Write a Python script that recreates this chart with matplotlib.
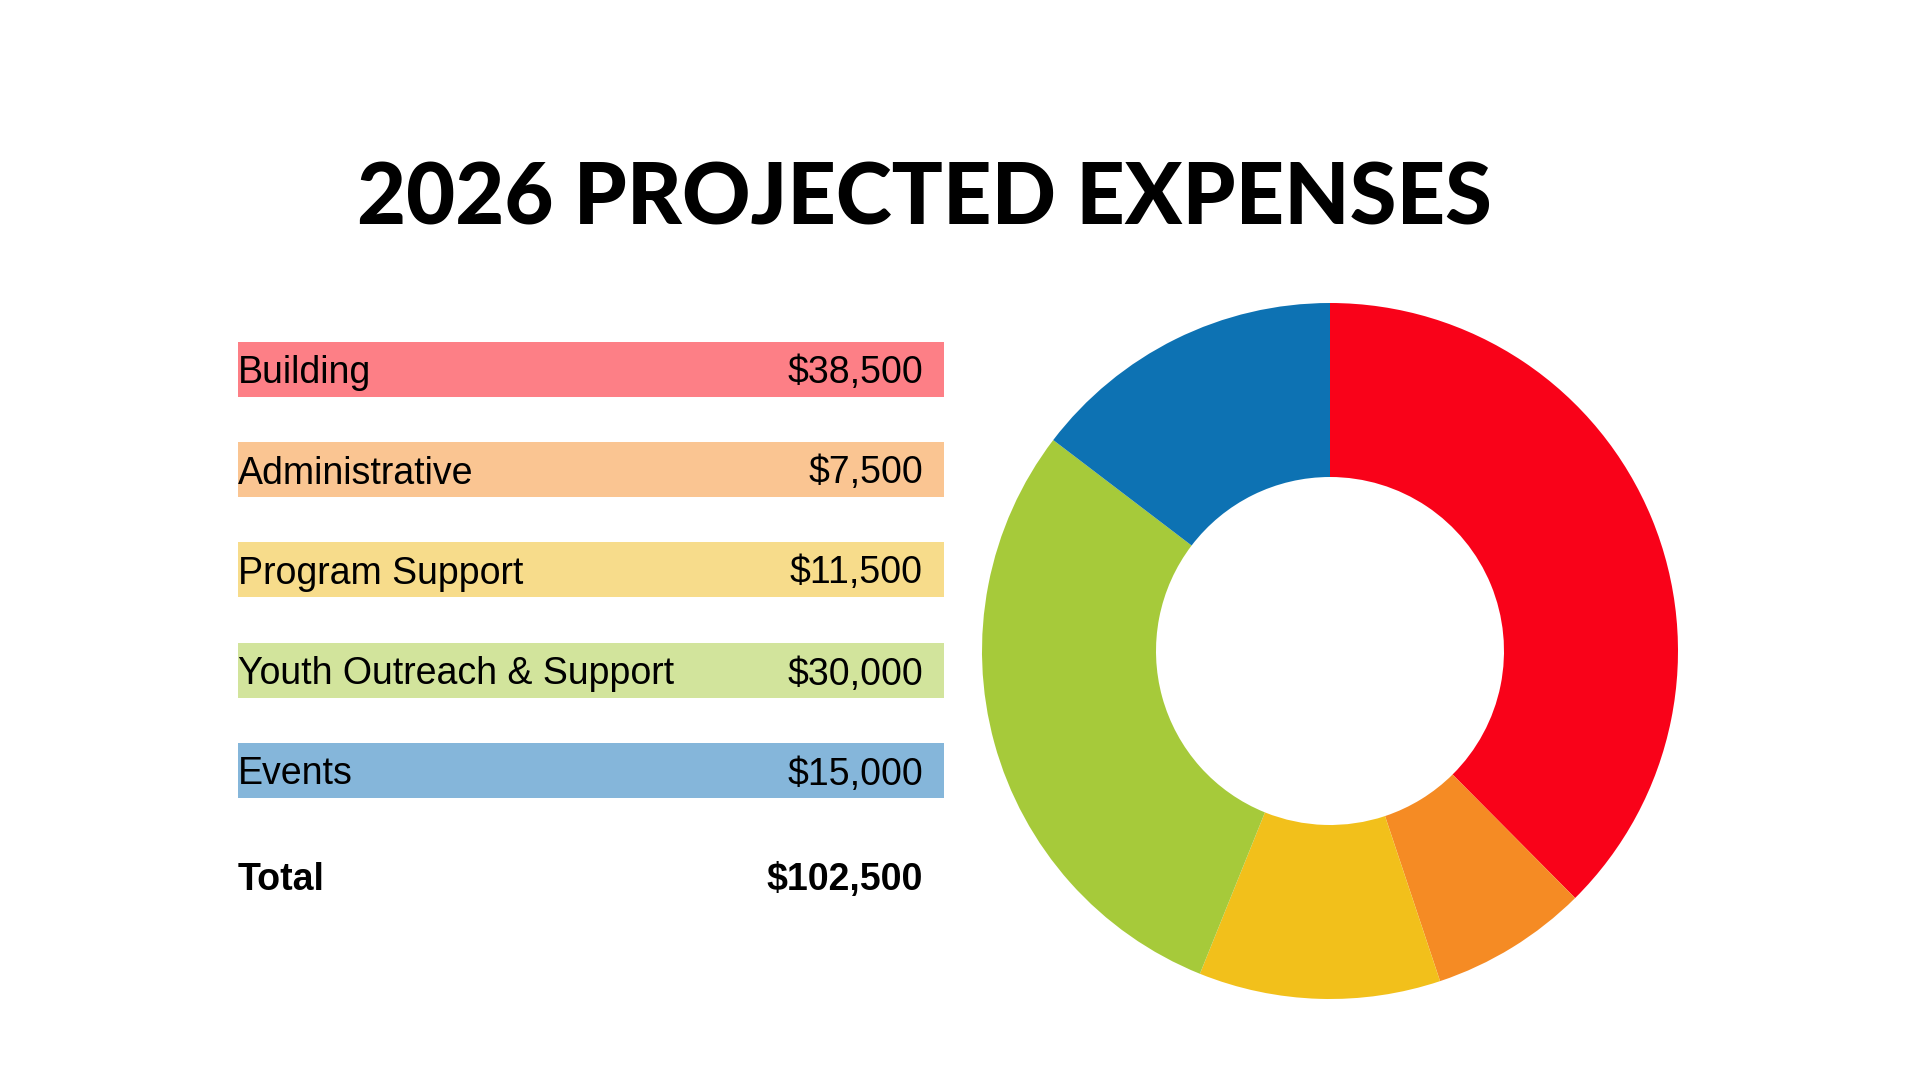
import matplotlib.pyplot as plt

# ==========================
# Data
# ==========================
categories = ["Building", "Administrative", "Program Support",
              "Youth Outreach & Support", "Events"]
amounts = [38500, 7500, 11500, 30000, 15000]
pie_colors = ["#F90219", "#F58B24", "#F2C01B", "#A6CA3A", "#0D72B3"]
row_colors = ["#FD7F86", "#FAC592", "#F7DC8B", "#D2E49C", "#85B6DA"]
title = "2026 PROJECTED EXPENSES"

total = sum(amounts)

W, H = 1920, 1080
fig = plt.figure(figsize=(W / 100, H / 100), dpi=100)
fig.patch.set_facecolor("white")

# title
fig.text(924 / W, 1 - 200 / H, title, ha="center", va="center",
         family=["Lato", "DejaVu Sans"], fontweight="black", fontsize=61)

# ==========================
# Table on the left (pixel coords)
# ==========================
ax_t = fig.add_axes([0, 0, 1, 1])
ax_t.set_xlim(0, W)
ax_t.set_ylim(H, 0)
ax_t.axis("off")

x0, x1 = 237.5, 944
y_rows = [369, 469.5, 569.5, 670.5, 770.5]
ax_t.barh(y_rows, x1 - x0, left=x0, height=55, color=row_colors)

txt = dict(family=["Liberation Sans", "DejaVu Sans"], fontsize=27, va="center")
for y, cat, amt in zip(y_rows, categories, amounts):
    ax_t.text(x0, y + 4, cat, ha="left", **txt)
    ax_t.text(923, y + 4, f"${amt:,}", ha="right", **txt)

y_tot = 880
ax_t.text(x0, y_tot, "Total", ha="left", fontweight="bold", **txt)
ax_t.text(923, y_tot, f"${total:,}", ha="right", fontweight="bold", **txt)

# ==========================
# Donut on the right
# ==========================
cx, cy, r = 1330, 651, 348
ax_p = fig.add_axes([(cx - r) / W, (H - cy - r) / H, 2 * r / W, 2 * r / H])
ax_p.pie(amounts, colors=pie_colors, startangle=90, counterclock=False,
         radius=1, wedgeprops=dict(width=0.5, linewidth=0))
ax_p.set_xlim(-1, 1)
ax_p.set_ylim(-1, 1)
ax_p.set_aspect("equal")
ax_p.axis("off")

fig.savefig("out.png", dpi=100, facecolor="white")
